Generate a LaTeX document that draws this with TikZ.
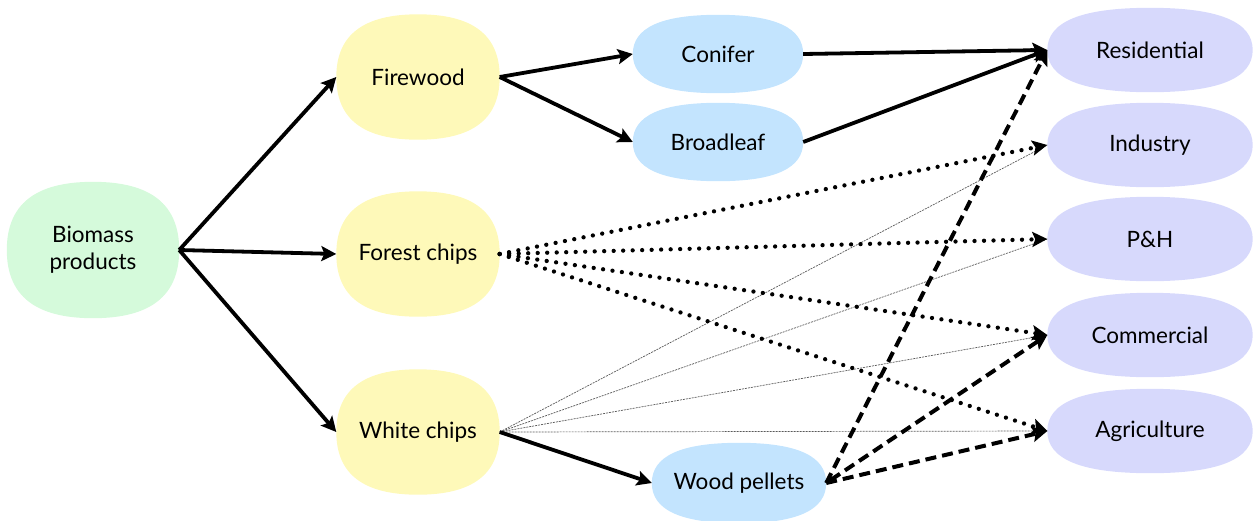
\documentclass[tikz,border=0pt]{standalone}
\usepackage{fontspec}
\setmainfont{Lato}
\usetikzlibrary{arrows.meta,calc,backgrounds}
\definecolor{cgreen}{HTML}{D5FADB}
\definecolor{cyellow}{HTML}{FEF9B9}
\definecolor{cblue}{HTML}{C3E4FE}
\definecolor{clav}{HTML}{D7D9FC}
\newcommand{\sqk}{0.67}
\newcommand{\sqfill}[2]{%
  \fill[#2] (#1.west)
    .. controls ($(#1.west)!\sqk!(#1.north west)$) and ($(#1.north)!\sqk!(#1.north west)$) .. (#1.north)
    .. controls ($(#1.north)!\sqk!(#1.north east)$) and ($(#1.east)!\sqk!(#1.north east)$) .. (#1.east)
    .. controls ($(#1.east)!\sqk!(#1.south east)$) and ($(#1.south)!\sqk!(#1.south east)$) .. (#1.south)
    .. controls ($(#1.south)!\sqk!(#1.south west)$) and ($(#1.west)!\sqk!(#1.south west)$) .. (#1.west) -- cycle;}
\tikzset{
  blob/.style={rectangle, draw=none, inner sep=0pt, align=center, font=\fontsize{22.5}{27}\selectfont},
  src/.style={blob, minimum width=172pt, minimum height=136pt},
  mid/.style={blob, minimum width=163pt, minimum height=125pt},
  sub/.style={blob, minimum width=170pt, minimum height=78pt},
  use/.style={blob, minimum width=205pt, minimum height=84pt},
  solidarr/.style={line width=3.8pt, -{Stealth[length=15pt,width=15pt,inset=3pt]}},
  dotarr/.style={line width=4.3pt, line cap=round, dash pattern=on 0pt off 9.5pt, -{Stealth[length=15pt,width=15pt,inset=3pt]}},
  dasharr/.style={line width=4pt, dash pattern=on 11pt off 6pt, -{Stealth[length=15pt,width=15pt,inset=3pt]}},
  thinline/.style={line width=0.7pt, gray!70!black, dash pattern=on 2pt off 1pt},
}
\begin{document}
\begin{tikzpicture}[x=1pt,y=-1pt]
\useasboundingbox (0,0) rectangle (1253,520);
\node[src] (bio) at (93,250) {Biomass\\products};
\node[mid] (fire) at (418,77) {Firewood};
\node[mid] (forest) at (418,254) {Forest chips};
\node[mid] (white) at (418,432) {White chips};
\node[sub] (con) at (718,54) {Conifer};
\node[sub] (broad) at (718,142) {Broadleaf};
\node[sub, minimum width=174pt, minimum height=80pt] (pel) at (739,483) {Wood pellets};
\node[use] (res) at (1150,50) {Residential};
\node[use] (ind) at (1150,145) {Industry};
\node[use] (ph) at (1150,239) {P\&H};
\node[use] (com) at (1150,335) {Commercial};
\node[use] (agr) at (1150,431) {Agriculture};

\begin{scope}[on background layer]
\sqfill{bio}{cgreen}
\foreach \n in {fire,forest,white} {\sqfill{\n}{cyellow}}
\foreach \n in {con,broad,pel} {\sqfill{\n}{cblue}}
\foreach \n in {res,ind,ph,com,agr} {\sqfill{\n}{clav}}
\end{scope}

% thin lines from white chips
\foreach \t in {ind,ph,com,agr}
  \draw[thinline] (white.east) -- (\t.west);

% solid arrows
\draw[solidarr] (bio.east) -- (fire.west);
\draw[solidarr] (bio.east) -- (forest.west);
\draw[solidarr] (bio.east) -- (white.west);
\draw[solidarr] (fire.east) -- (con.west);
\draw[solidarr] (fire.east) -- (broad.west);
\draw[solidarr] (con.east) -- (res.west);
\draw[solidarr] (broad.east) -- (res.west);
\draw[solidarr] (white.east) -- (pel.west);

% dotted arrows from forest chips
\foreach \t in {ind,ph,com,agr}
  \draw[dotarr] (forest.east) -- (\t.west);

% dashed arrows from wood pellets
\draw[dasharr] (pel.east) -- (res.west);
\draw[dasharr, {Stealth[length=9pt,width=9pt]}-{Stealth[length=15pt,width=15pt,inset=3pt]}] (pel.east) -- (com.west);
\draw[dasharr] (pel.east) -- (agr.west);
\end{tikzpicture}
\end{document}
